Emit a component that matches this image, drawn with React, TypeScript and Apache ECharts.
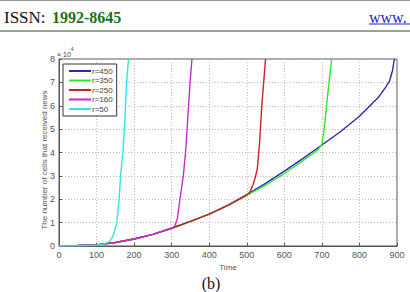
import React, { useEffect, useRef } from "react";
import * as echarts from "echarts";

// Data (values in units of 10^4 cells)
const xTicks = [0, 100, 200, 300, 400, 500, 600, 700, 800, 900];
const yTicks = [0, 1, 2, 3, 4, 5, 6, 7, 8];

const t450 = [0, 50, 100, 150, 200, 250, 300, 350, 400, 450, 500, 550, 600, 650, 700, 750, 800, 850, 870, 880, 888, 893];
const v450 = [0, 0.02, 0.05, 0.15, 0.3, 0.5, 0.76, 1.05, 1.36, 1.75, 2.2, 2.68, 3.2, 3.75, 4.32, 4.9, 5.55, 6.35, 6.8, 7.05, 7.5, 8];

const t350 = [0, 50, 100, 150, 200, 250, 300, 350, 400, 450, 500, 550, 600, 650, 690, 700, 706, 712, 719, 726];
const v350 = [0, 0.02, 0.05, 0.15, 0.3, 0.5, 0.76, 1.05, 1.36, 1.74, 2.17, 2.6, 3.1, 3.65, 4.12, 4.35, 5.0, 5.95, 7.0, 8];

const t250 = [0, 50, 100, 150, 200, 250, 300, 350, 400, 450, 500, 508, 515, 522, 528, 534, 540, 545, 550];
const v250 = [0, 0.02, 0.05, 0.15, 0.3, 0.5, 0.76, 1.05, 1.36, 1.74, 2.18, 2.3, 2.55, 2.9, 3.3, 4.4, 6.0, 7.0, 8];

const t160 = [0, 50, 100, 150, 200, 250, 300, 308, 315, 322, 331, 337, 343, 349, 354];
const v160 = [0, 0.02, 0.05, 0.15, 0.3, 0.5, 0.76, 0.85, 1.15, 2.0, 3.0, 4.0, 5.5, 7.0, 8];

const t50 = [0, 50, 100, 120, 135, 143, 149, 154, 160, 164, 170, 175, 180, 185];
const v50 = [0, 0.01, 0.03, 0.08, 0.2, 0.4, 0.7, 1.0, 2.0, 3.0, 4.0, 5.3, 7.0, 8];

const seriesNames = ["r=450", "r=350", "r=250", "r=160", "r=50"];
const seriesT = [t450, t350, t250, t160, t50];
const seriesV = [v450, v350, v250, v160, v50];
const seriesColors = ["#2a2ab0", "#2ee82e", "#c42424", "#c82cc8", "#2ee8e8"];

export default function App() {
  const ref = useRef<HTMLDivElement>(null);
  useEffect(() => {
    if (!ref.current) return;
    const chart = echarts.init(ref.current, null, { renderer: "svg" });
    const series = seriesNames.map((name, i) => ({
      name,
      type: "line",
      data: seriesT[i].map((t, j) => [t, seriesV[i][j]]),
      symbol: "none",
      smooth: false,
      lineStyle: { color: seriesColors[i], width: 1.4 },
      itemStyle: { color: seriesColors[i] },
    }));
    chart.setOption({
      animation: false,
      backgroundColor: "#ffffff",
      grid: {
        left: 59,
        top: 59,
        width: 338,
        height: 187,
        show: true,
        borderColor: "#555",
        borderWidth: 1,
        backgroundColor: "transparent",
      },
      xAxis: {
        type: "value",
        min: 0,
        max: 900,
        interval: 100,
        name: "Time",
        nameLocation: "middle",
        nameGap: 16,
        nameTextStyle: { fontSize: 8, color: "#555", fontFamily: "Liberation Sans" },
        axisLine: { show: true, lineStyle: { color: "#555" } },
        axisTick: { show: true, inside: true, length: 3, lineStyle: { color: "#555" } },
        axisLabel: { fontSize: 9, color: "#555", margin: 4, fontFamily: "Liberation Sans", customValues: xTicks },
        splitLine: { show: true, lineStyle: { color: "#bbb", type: [1, 2] } },
      },
      yAxis: {
        type: "value",
        min: 0,
        max: 8,
        interval: 1,
        axisLine: { show: true, lineStyle: { color: "#555" } },
        axisTick: { show: true, inside: true, length: 3, lineStyle: { color: "#555" } },
        axisLabel: { fontSize: 9, color: "#555", margin: 4, fontFamily: "Liberation Sans", customValues: yTicks },
        splitLine: { show: true, lineStyle: { color: "#bbb", type: [1, 2] } },
      },
      legend: {
        show: true,
        orient: "vertical",
        left: 63,
        top: 64,
        padding: [3, 4, 3, 6],
        itemGap: 1.5,
        itemWidth: 22,
        itemHeight: 2,
        icon: "rect",
        borderColor: "#333",
        borderWidth: 1,
        backgroundColor: "#fff",
        textStyle: { fontSize: 8, color: "#444", fontFamily: "Liberation Sans", padding: [0, 0, 0, -4] },
        data: seriesNames,
      },
      graphic: [
        { type: "line", shape: { x1: 0, y1: 0.5, x2: 410, y2: 0.5 }, style: { stroke: "#999", lineWidth: 1 } },
        { type: "line", shape: { x1: 0, y1: 31, x2: 410, y2: 31 }, style: { stroke: "#6d8a6d", lineWidth: 1.5 } },
        {
          type: "text",
          x: 4,
          y: 17,
          style: { text: "ISSN:", fontSize: 17, fontFamily: "Liberation Serif", fill: "#111", verticalAlign: "middle" },
        },
        {
          type: "text",
          x: 52,
          y: 17,
          style: { text: "1992-8645", fontSize: 16, fontWeight: "bold", fontFamily: "Liberation Serif", fill: "#1e6e1e", verticalAlign: "middle" },
        },
        {
          type: "text",
          x: 369,
          y: 17,
          style: { text: "www.", fontSize: 16, fontFamily: "Liberation Serif", fill: "#2424c8", verticalAlign: "middle" },
        },
        { type: "line", shape: { x1: 369, y1: 24, x2: 410, y2: 24 }, style: { stroke: "#2424c8", lineWidth: 1 } },
        {
          type: "text",
          x: 57,
          y: 52,
          style: {
            text: "{a|× 10}{b|4}",
            rich: {
              a: { fontSize: 7, fill: "#444", fontFamily: "Liberation Sans", verticalAlign: "bottom" },
              b: { fontSize: 5, fill: "#444", fontFamily: "Liberation Sans", verticalAlign: "top", padding: [0, 0, 6, 0] },
            },
            verticalAlign: "middle",
          },
        },
        {
          type: "text",
          x: 44,
          y: 160,
          rotation: Math.PI / 2,
          style: {
            text: "The number of cells that received news",
            fontSize: 8,
            fill: "#555",
            fontFamily: "Liberation Sans",
            align: "center",
            verticalAlign: "middle",
          },
        },
        {
          type: "text",
          x: 211,
          y: 283,
          style: { text: "(b)", fontSize: 16, fontFamily: "Liberation Serif", fill: "#111", align: "center", verticalAlign: "middle" },
        },
      ],
      series,
    });
    return () => chart.dispose();
  }, []);
  return (
    <div
      ref={ref}
      style={{ position: "fixed", left: 0, top: 0, width: 410, height: 292, background: "#fff" }}
    />
  );
}
